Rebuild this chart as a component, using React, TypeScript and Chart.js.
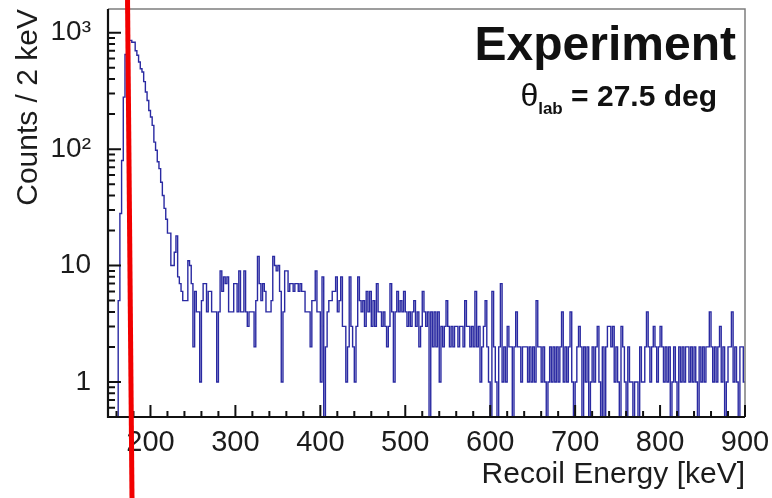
import React, { useEffect, useRef } from 'react';
import { Chart, registerables } from 'chart.js';

Chart.register(...registerables);

// ---------- data ----------
const X_MIN = 150;
const X_MAX = 900;
const BIN_WIDTH = 2; // keV per bin
const Y_MIN = 0.5;
const Y_MAX = 1600;

// counts per 2 keV bin, bins starting at 150 keV
const countsPeak = [
  0, 0, 0, 0, 0, 0, 5, 28, 80, 280,
  650, 850, 860, 860, 830, 830, 700, 640, 560, 490,
  460, 380, 310, 262, 215, 189, 160, 115, 98, 78,
  68, 52, 40, 31, 25, 19, 19, 10, 10, 13,
  18, 8, 7, 6, 5, 5, 5, 11, 10, 7,
]; // 150 - 248 keV

const countsMid = [
  2, 6, 4, 4, 1, 5, 7, 7, 4, 6,
  6, 4, 4, 4, 1, 4, 9, 6, 8, 7,
  8, 4, 4, 4, 7, 7, 4, 9, 4, 4,
  9, 4, 3, 4, 4, 4, 2, 5, 12, 7,
  5, 7, 6, 4, 4, 4, 5, 12, 10, 9,
  10, 6, 1, 4, 9, 9, 6, 7, 7, 6,
  7, 7, 6, 7, 6, 6, 4, 4, 4, 2,
  5, 5, 9, 4, 4, 1, 8, 0, 2, 4,
  5, 5, 6, 6, 8, 4, 5, 8, 3, 3,
  1, 2, 8, 3, 2, 1, 3, 8, 5, 4,
]; // 250 - 448 keV

const countsTail1 = [
  5, 3, 6, 4, 6, 3, 5, 3, 7, 4,
  4, 3, 4, 3, 2, 3, 7, 4, 1, 4,
  6, 4, 5, 4, 6, 4, 3, 4, 3, 4,
  5, 3, 4, 2, 3, 6, 4, 3, 4, 0,
  4, 2, 4, 2, 4, 1, 3, 2, 3, 5,
  3, 2, 3, 2, 3, 3, 2, 3, 3, 2,
  5, 3, 3, 2, 3, 2, 6, 2, 3, 1,
  2, 3, 5, 2, 1, 0, 6, 2, 1, 0,
  2, 7, 1, 2, 1, 3, 2, 2, 0, 2,
  4, 2, 2, 1, 2, 2, 2, 1, 2, 1,
  2, 1, 5, 2,
]; // 450 - 656 keV

const countsTail2 = [
  2, 1, 2, 1, 0, 1, 2, 1, 2, 1,
  2, 1, 2, 4, 1, 2, 1, 2, 4, 1,
  0, 1, 2, 3, 2, 0, 2, 1, 2, 0,
  1, 2, 1, 2, 3, 1, 0, 2, 0, 2,
  3, 3, 2, 3, 1, 2, 1, 0, 3, 2,
  1, 0, 2, 1, 1, 0, 1, 1, 0, 2,
  1, 1, 2, 4, 2, 1, 2, 3, 2, 1,
  2, 3, 2, 1, 2, 1, 2, 0, 1, 2,
  1, 0, 2, 1, 2, 1, 2, 2, 1, 2,
  1, 2, 1, 0, 2, 1, 2, 1, 2, 2,
  4, 2, 1, 2, 1, 2, 3, 1, 2, 0,
  1, 2, 2, 4, 1, 2, 1, 0, 2, 2,
  1,
]; // 658 - 898 keV

const xMajorTicks = [200, 300, 400, 500, 600, 700, 800, 900];
const xMinorTicks = [
  160, 180, 220, 240, 260, 280, 320, 340, 360, 380,
  420, 440, 460, 480, 520, 540, 560, 580, 620, 640,
  660, 680, 720, 740, 760, 780, 820, 840, 860, 880,
];
const yMajorTicks = [1, 10, 100, 1000];
const yTickLabels = ['1', '10', '10\u00B2', '10\u00B3'];
const yMinorTicks = [
  0.5, 0.6, 0.7, 0.8, 0.9,
  2, 3, 4, 5, 6, 7, 8, 9,
  20, 30, 40, 50, 60, 70, 80, 90,
  200, 300, 400, 500, 600, 700, 800, 900,
];

// hand-drawn red marker line (data-space anchor points)
const redLine = [
  { x: 173.1, y: Y_MAX },
  { x: 177.4, y: Y_MIN },
];

const titleMain = 'Experiment';
const angleSymbol = '\u03B8';
const angleSub = 'lab';
const angleText = ' = 27.5 deg';

// ---------- style ----------
const FONT = "'Liberation Sans', Arial, Helvetica, sans-serif";
const TEXT = '#1c1c1c';
const HIST = '#2a2aa2';

const rootStyle = {
  id: 'rootStyle',
  afterDatasetsDraw(chart: any) {
    const { ctx, chartArea: a, scales } = chart;
    const xs = scales.x;
    const ys = scales.y;
    ctx.save();
    // frame top / right (grey)
    ctx.strokeStyle = '#7d7d7d';
    ctx.lineWidth = 1.5;
    ctx.beginPath();
    ctx.moveTo(a.left, a.top);
    ctx.lineTo(a.right, a.top);
    ctx.lineTo(a.right, a.bottom);
    ctx.stroke();
    // ticks
    ctx.strokeStyle = '#111';
    ctx.lineWidth = 2;
    ctx.beginPath();
    for (const v of yMajorTicks) {
      const py = ys.getPixelForValue(v);
      ctx.moveTo(a.left, py);
      ctx.lineTo(a.left + 13, py);
    }
    for (const v of yMinorTicks) {
      const py = ys.getPixelForValue(v);
      ctx.moveTo(a.left, py);
      ctx.lineTo(a.left + 7, py);
    }
    for (const v of xMajorTicks) {
      const px = xs.getPixelForValue(v);
      ctx.moveTo(px, a.bottom);
      ctx.lineTo(px, a.bottom - 12);
    }
    for (const v of xMinorTicks) {
      const px = xs.getPixelForValue(v);
      ctx.moveTo(px, a.bottom);
      ctx.lineTo(px, a.bottom - 6);
    }
    ctx.stroke();
    // axes (black)
    ctx.lineWidth = 2.2;
    ctx.beginPath();
    ctx.moveTo(a.left, a.top);
    ctx.lineTo(a.left, a.bottom);
    ctx.lineTo(a.right, a.bottom);
    ctx.stroke();

    // texts
    ctx.fillStyle = '#111';
    ctx.textBaseline = 'alphabetic';
    ctx.textAlign = 'right';
    ctx.font = `bold 48px ${FONT}`;
    ctx.fillText(titleMain, a.right - 9, a.top + 51);

    ctx.textAlign = 'left';
    const mainFont = `bold 30px ${FONT}`;
    const symFont = `32px ${FONT}`;
    const subFont = `bold 17px ${FONT}`;
    ctx.font = mainFont;
    const wMain = ctx.measureText(angleText).width;
    ctx.font = subFont;
    const wSub = ctx.measureText(angleSub).width;
    ctx.font = symFont;
    const wSym = ctx.measureText(angleSymbol).width;
    const endX = a.right - 28;
    const base = a.top + 97;
    let x0 = endX - wMain - wSub - wSym;
    ctx.font = symFont;
    ctx.fillText(angleSymbol, x0, base);
    x0 += wSym;
    ctx.font = subFont;
    ctx.fillText(angleSub, x0, base + 8);
    x0 += wSub;
    ctx.font = mainFont;
    ctx.fillText(angleText, x0, base);
    ctx.restore();
  },
  afterDraw(chart: any) {
    const { ctx, scales } = chart;
    const xs = scales.x;
    const ys = scales.y;
    const p1 = { x: xs.getPixelForValue(redLine[0].x), y: ys.getPixelForValue(redLine[0].y) };
    const p2 = { x: xs.getPixelForValue(redLine[1].x), y: ys.getPixelForValue(redLine[1].y) };
    const slope = (p2.x - p1.x) / (p2.y - p1.y);
    const H = chart.height;
    ctx.save();
    ctx.strokeStyle = '#f20000';
    ctx.lineWidth = 5;
    ctx.beginPath();
    ctx.moveTo(p1.x - slope * p1.y, 0);
    ctx.lineTo(p1.x + slope * (H - p1.y), H);
    ctx.stroke();
    ctx.restore();
  },
};

export default function App() {
  const ref = useRef<HTMLCanvasElement | null>(null);

  useEffect(() => {
    if (!ref.current) return;
    const counts = [...countsPeak, ...countsMid, ...countsTail1, ...countsTail2];
    const points = counts.map((c, i) => ({ x: X_MIN + BIN_WIDTH * i, y: c > 0 ? c : Y_MIN }));
    const last = counts[counts.length - 1];
    points.push({ x: X_MAX, y: last > 0 ? last : Y_MIN });

    const chart = new Chart(ref.current, {
      type: 'line',
      data: {
        datasets: [
          {
            data: points,
            borderColor: HIST,
            borderWidth: 1.4,
            pointRadius: 0,
            stepped: true,
            fill: false,
            tension: 0,
          },
        ],
      },
      options: {
        animation: false,
        responsive: false,
        devicePixelRatio: 1,
        layout: { padding: { left: 0, top: 9, right: 27, bottom: 0 } },
        plugins: { legend: { display: false }, tooltip: { enabled: false } },
        scales: {
          x: {
            type: 'linear',
            min: X_MIN,
            max: X_MAX,
            grid: { display: false },
            border: { display: false },
            ticks: {
              autoSkip: false,
              maxRotation: 0,
              padding: 1,
              color: TEXT,
              font: { family: FONT, size: 29 },
              callback: (v: any) => String(v),
            },
            afterBuildTicks: (s: any) => {
              s.ticks = xMajorTicks.map((value) => ({ value }));
            },
            afterFit: (s: any) => {
              s.height = 81;
              s.paddingLeft = 0;
              s.paddingRight = 0;
            },
            title: {
              display: true,
              text: 'Recoil Energy [keV]',
              align: 'end',
              color: TEXT,
              font: { family: FONT, size: 30 },
              padding: { top: 0, bottom: 5 },
            },
          },
          y: {
            type: 'logarithmic',
            min: Y_MIN,
            max: Y_MAX,
            grid: { display: false },
            border: { display: false },
            ticks: {
              autoSkip: false,
              padding: 9,
              color: TEXT,
              font: { family: FONT, size: 28 },
              callback: (v: any) => {
                const i = yMajorTicks.indexOf(Number(v));
                return i >= 0 ? yTickLabels[i] : '';
              },
            },
            afterBuildTicks: (s: any) => {
              s.ticks = yMajorTicks.map((value) => ({ value, major: true }));
            },
            afterFit: (s: any) => {
              s.width = 108;
              s.paddingTop = 0;
              s.paddingBottom = 0;
            },
            title: {
              display: true,
              text: 'Counts / 2 keV',
              align: 'end',
              color: TEXT,
              font: { family: FONT, size: 30 },
              padding: { top: 11, bottom: 0 },
            },
          },
        },
      },
      plugins: [rootStyle],
    });
    return () => chart.destroy();
  }, []);

  return (
    <div style={{ position: 'absolute', left: 0, top: 0, width: 772, height: 498, background: '#fff' }}>
      <canvas ref={ref} width={772} height={498} />
    </div>
  );
}
